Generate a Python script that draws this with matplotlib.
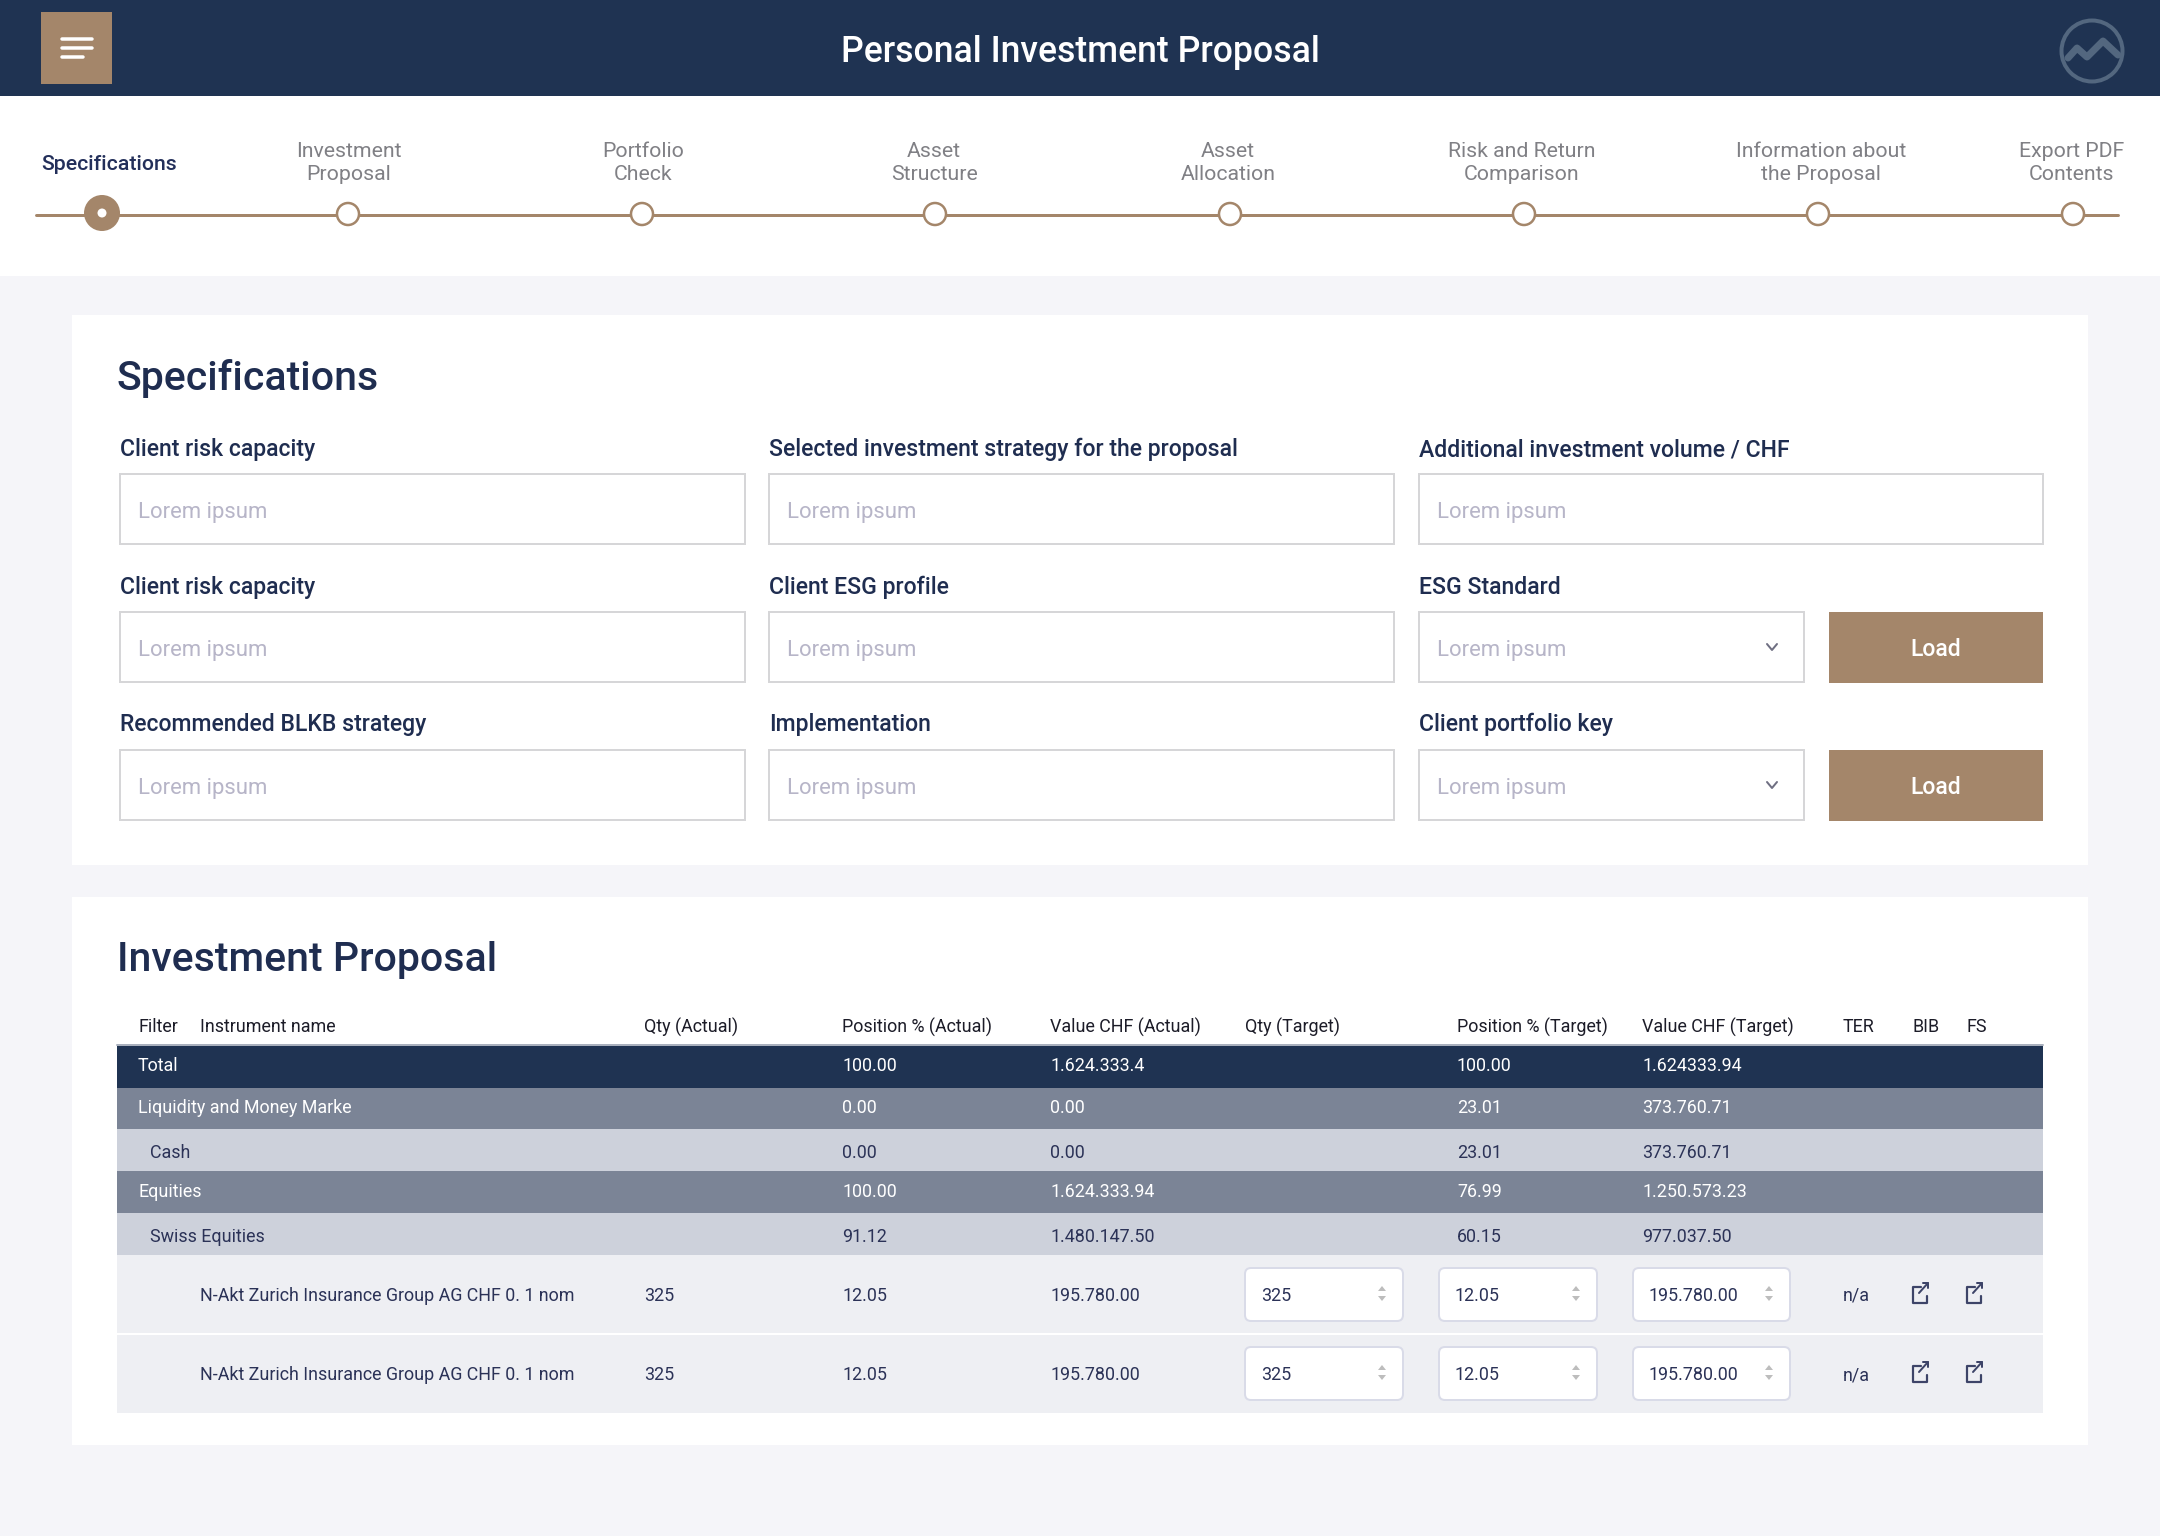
import matplotlib
matplotlib.use('Agg')
import matplotlib.pyplot as plt
from matplotlib.patches import Rectangle, Circle, FancyBboxPatch, Polygon

plt.rcParams['font.family'] = ['Roboto', 'DejaVu Sans']

# content
title = 'Personal Investment Proposal'
steps = ['Specifications', 'Investment\nProposal', 'Portfolio\nCheck', 'Asset\nStructure',
         'Asset\nAllocation', 'Risk and Return\nComparison', 'Information about\nthe Proposal',
         'Export PDF\nContents']
form_labels = [['Client risk capacity', 'Selected investment strategy for the proposal', 'Additional investment volume / CHF'],
               ['Client risk capacity', 'Client ESG profile', 'ESG Standard'],
               ['Recommended BLKB strategy', 'Implementation', 'Client portfolio key']]
placeholder = 'Lorem ipsum'
headers = ['Filter', 'Instrument name', 'Qty (Actual)', 'Position % (Actual)', 'Value CHF (Actual)',
           'Qty (Target)', 'Position % (Target)', 'Value CHF (Target)', 'TER', 'BIB', 'FS']
group_names = ['Total', 'Liquidity and Money Marke', 'Cash', 'Equities', 'Swiss Equities']
pos_actual = ['100.00', '0.00', '0.00', '100.00', '91.12']
val_actual = ['1.624.333.4', '0.00', '0.00', '1.624.333.94', '1.480.147.50']
pos_target = ['100.00', '23.01', '23.01', '76.99', '60.15']
val_target = ['1.624333.94', '373.760.71', '373.760.71', '1.250.573.23', '977.037.50']
instruments = ['N-Akt Zurich Insurance Group AG CHF 0. 1 nom', 'N-Akt Zurich Insurance Group AG CHF 0. 1 nom']
inst_qty = ['325', '325']
inst_pos = ['12.05', '12.05']
inst_val = ['195.780.00', '195.780.00']
inst_ter = ['n/a', 'n/a']

NAVY = '#1f3352'
BROWN = '#a4866a'
MID = '#7b8496'
LIGHT = '#cdd1db'
PALE = '#eeeff3'
TXT = '#2b3257'
PX = 0.72
TABLE_SIZE = 12.9

fig = plt.figure(figsize=(21.6, 15.36), dpi=100, facecolor='#f5f5f9')
ax = fig.add_axes([0, 0, 1, 1])
ax.set_xlim(0, 2160)
ax.set_ylim(1536, 0)
ax.axis('off')


def rect(x0, y0, x1, y1, fc, ec='none', lw=0, z=1):
    ax.add_patch(Rectangle((x0, y0), x1 - x0, y1 - y0, facecolor=fc, edgecolor=ec, linewidth=lw * PX, zorder=z))


def line(xs, ys, color, lw, z=3):
    ax.plot(xs, ys, color=color, lw=lw * PX, solid_capstyle='round', solid_joinstyle='round', zorder=z)


def txt(x, y, s, size, color, ha='left', weight='normal', va='center_baseline'):
    ax.text(x, y, s, fontsize=size, color=color, ha=ha, va=va, weight=weight, zorder=5, linespacing=1.25)


# header bar
rect(0, 0, 2160, 96, NAVY)
rect(41, 12, 112, 84, BROWN, z=2)
line([62, 92], [39, 39], 'white', 3.5)
line([62, 92], [48, 48], 'white', 3.5)
line([62, 83], [57, 57], 'white', 3.5)
txt(1080, 49, title, 25.6, 'white', ha='center', weight='medium')
ax.add_patch(Circle((2092, 51), 30.5, facecolor='none', edgecolor='#53677f', linewidth=4 * PX, zorder=3))
line([2068, 2077, 2087, 2103, 2118], [58, 48, 57, 41, 55], '#53677f', 7)

# stepper
rect(0, 96, 2160, 276, 'white')
line([36, 2118], [215, 215], BROWN, 3, z=2)
step_x = [102, 348, 642, 935, 1230, 1524, 1818, 2073]
label_x = [None, 349, 643, 934, 1228, 1522, 1821, 2072]
ax.add_patch(Circle((step_x[0], 213), 18, facecolor=BROWN, edgecolor='none', zorder=3))
ax.add_patch(Circle((step_x[0], 213), 4.5, facecolor='white', edgecolor='none', zorder=4))
txt(41, 163, steps[0], 15.3, '#232f5a', weight='medium')
for i in range(1, len(steps)):
    ax.add_patch(Circle((step_x[i], 214), 11, facecolor='white', edgecolor=BROWN, linewidth=2.5 * PX, zorder=3))
    txt(label_x[i], 163, steps[i], 15.3, '#808085', ha='center', va='center')

# cards
rect(72, 315, 2088, 865, 'white')
rect(72, 897, 2088, 1445, 'white')
txt(117, 374, 'Specifications', 29.5, '#1f2d50', weight='medium')
txt(117, 956, 'Investment Proposal', 29.5, '#1f2d50', weight='medium')

# form rows
row_label_y = [447, 585, 722]
row_box_y = [(474, 544), (612, 682), (750, 820)]
col_x = [(120, 745), (769, 1394), (1419, 2043)]
for r in range(3):
    for c in range(3):
        x0, x1 = col_x[c]
        y0, y1 = row_box_y[r]
        txt(x0, row_label_y[r], form_labels[r][c], 16.6, '#1f2d50', weight='medium')
        if c == 2 and r > 0:
            x1 = 1804
            rect(1829, y0, 2043, y1 + 1, BROWN)
            txt(1936, (y0 + y1) / 2, 'Load', 16.6, 'white', ha='center', weight='medium')
            cy = (y0 + y1) / 2
            line([1767, 1772, 1777], [cy - 3, cy + 3, cy - 3], '#6f6f82', 2)
        rect(x0, y0, x1, y1, 'white', ec='#d6d6d8', lw=2)
        txt(x0 + 18, (y0 + y1) / 2 + 1, placeholder, 15.9, '#b7b5c8')

# table
col_text = [138, 200, 644, 842, 1050, 1245, 1457, 1642, 1843, 1912, 1966]
for h, x in zip(headers, col_text):
    txt(x, 1025, h, TABLE_SIZE, '#1c1c28')
row_edges = [1045, 1087.5, 1129, 1171, 1213, 1255]
row_fill = [NAVY, MID, LIGHT, MID, LIGHT]
row_color = ['white', 'white', TXT, 'white', TXT]
row_text_y = [1064, 1106, 1151, 1190, 1235]
row_indent = [138, 138, 150, 138, 150]
for i in range(5):
    rect(117, row_edges[i], 2043, row_edges[i + 1], row_fill[i])
    y = row_text_y[i]
    txt(row_indent[i], y, group_names[i], TABLE_SIZE, row_color[i])
    txt(842, y, pos_actual[i], TABLE_SIZE, row_color[i])
    txt(1050, y, val_actual[i], TABLE_SIZE, row_color[i])
    txt(1457, y, pos_target[i], TABLE_SIZE, row_color[i])
    txt(1642, y, val_target[i], TABLE_SIZE, row_color[i])
line([117, 2043], [1045, 1045], '#a9b0bd', 2, z=2)

inst_edges = [(1255, 1333), (1335, 1413)]
inst_y = [1294, 1373]
box_y = [(1268, 1321), (1347, 1400)]
spin_x = [(1245, 1403), (1439, 1597), (1633, 1790)]


def open_icon(cx, cy):
    # square with an arrow leaving the top right corner
    c = '#3d4468'
    line([cx + 1, cx - 7, cx - 7, cx + 7, cx + 7], [cy - 6, cy - 6, cy + 10, cy + 10, cy + 3], c, 2.2)
    line([cx - 1, cx + 8], [cy, cy - 10], c, 2)
    line([cx + 3, cx + 8, cx + 8], [cy - 10, cy - 10, cy - 5], c, 2)


for i in range(2):
    y = inst_y[i]
    rect(117, inst_edges[i][0], 2043, inst_edges[i][1], PALE)
    txt(200, y, instruments[i], TABLE_SIZE, TXT)
    txt(644, y, inst_qty[i], TABLE_SIZE, TXT)
    txt(842, y, inst_pos[i], TABLE_SIZE, TXT)
    txt(1050, y, inst_val[i], TABLE_SIZE, TXT)
    values = [inst_qty[i], inst_pos[i], inst_val[i]]
    for (x0, x1), v in zip(spin_x, values):
        y0, y1 = box_y[i]
        ax.add_patch(FancyBboxPatch((x0, y0), x1 - x0, y1 - y0, boxstyle='round,pad=0,rounding_size=6',
                                    facecolor='white', edgecolor='#d9dbe8', linewidth=2 * PX, zorder=3))
        txt(x0 + 16, y, v, TABLE_SIZE, TXT)
        ax.add_patch(Polygon([(x1 - 25, y0 + 23), (x1 - 21, y0 + 18), (x1 - 17, y0 + 23)], facecolor='#bdbdbd', zorder=4))
        ax.add_patch(Polygon([(x1 - 25, y0 + 28), (x1 - 21, y0 + 33), (x1 - 17, y0 + 28)], facecolor='#bdbdbd', zorder=4))
    txt(1843, y, inst_ter[i], TABLE_SIZE, TXT)
    open_icon(1920, y - 1)
    open_icon(1974, y - 1)

fig.savefig('out.png', dpi=100, facecolor=fig.get_facecolor())
